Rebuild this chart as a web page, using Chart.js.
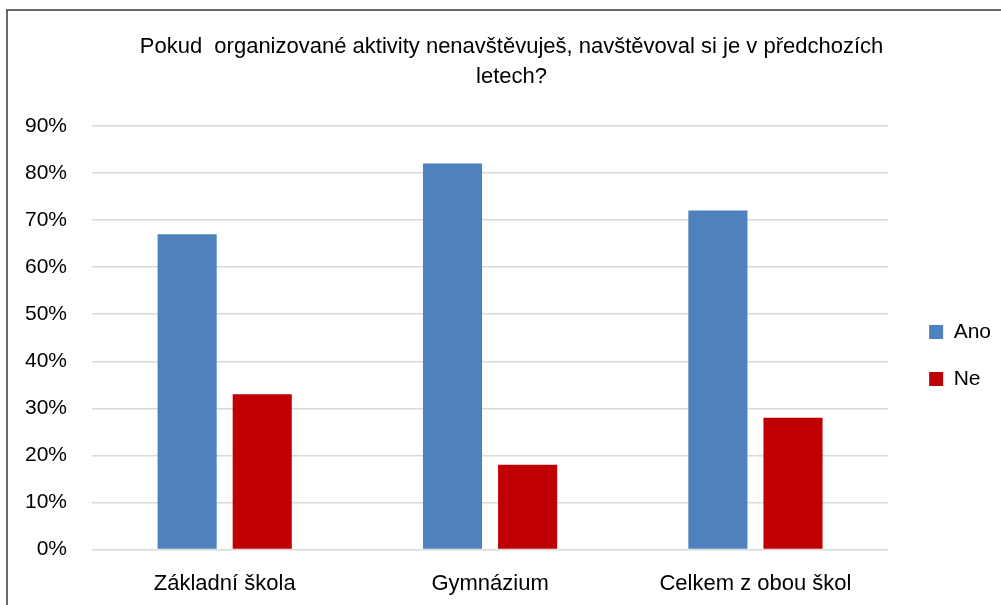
<!DOCTYPE html>
<html>
<head>
<meta charset="utf-8">
<script src="https://cdn.jsdelivr.net/npm/chart.js@4"></script>
<style>
  html, body { margin: 0; padding: 0; background: #fff; }
  #wrap { width: 1001px; height: 605px; }
</style>
</head>
<body>
<div id="wrap"><canvas id="chart" width="1001" height="605"></canvas></div>
<script>
const categories = ['Základní škola', 'Gymnázium', 'Celkem z obou škol'];
const anoValues = [67, 82, 72];
const neValues = [33, 18, 28];
const titleLines = ['Pokud  organizované aktivity nenavštěvuješ, navštěvoval si je v předchozích', 'letech?'];

const font = 'Liberation Sans';

// frame line on the left and top edge
const framePlugin = {
  id: 'frame',
  afterDraw(chart) {
    const ctx = chart.ctx;
    ctx.save();
    ctx.strokeStyle = '#3a3a3a';
    ctx.lineWidth = 1.5;
    ctx.beginPath();
    ctx.moveTo(7, 605);
    ctx.lineTo(7, 10);
    ctx.lineTo(1001, 10);
    ctx.stroke();
    ctx.restore();
  }
};

const ctx = document.getElementById('chart').getContext('2d');
const chart = new Chart(ctx, {
  type: 'bar',
  data: {
    labels: categories,
    datasets: [
      {
        label: 'Ano',
        data: anoValues,
        backgroundColor: '#4F81BD',
        categoryPercentage: 0.566,
        barPercentage: 0.787,
      },
      {
        label: 'Ne',
        data: neValues,
        backgroundColor: '#C00000',
        categoryPercentage: 0.566,
        barPercentage: 0.787,
      },
    ],
  },
  options: {
    responsive: false,
    animation: false,
    layout: {
      padding: { left: 22, right: 0, top: 0, bottom: -13 },
    },
    scales: {
      x: {
        grid: { display: false, drawTicks: false },
        border: { display: false },
        ticks: {
          color: '#000',
          padding: 21,
          font: { family: font, size: 22 },
        },
      },
      y: {
        min: 0,
        max: 90,
        afterFit: (scale) => { scale.width = 70; },
        grid: { color: '#d9d9d9', lineWidth: 1.5, drawTicks: false },
        border: { display: false },
        ticks: {
          stepSize: 10,
          color: '#000',
          padding: 25,
          font: { family: font, size: 21 },
          callback: (v) => v + '%',
        },
      },
      gap: {
        position: 'right',
        display: true,
        afterFit: (scale) => { scale.width = 15; },
        grid: { display: false },
        border: { display: false },
        ticks: { display: false },
      },
    },
    plugins: {
      title: {
        display: true,
        text: titleLines,
        color: '#000',
        font: { family: font, size: 22, weight: 'normal', lineHeight: 1.36 },
        padding: { top: 32, bottom: 34 },
      },
      legend: {
        position: 'right',
        title: {
          display: true,
          text: ' ',
          font: { size: 10 },
          padding: { top: 0, bottom: 81 },
        },
        labels: {
          color: '#000',
          boxWidth: 14,
          boxHeight: 14,
          padding: 26,
          font: { family: font, size: 21 },
        },
      },
      tooltip: { enabled: false },
    },
  },
  plugins: [framePlugin],
});
</script>
</body>
</html>
